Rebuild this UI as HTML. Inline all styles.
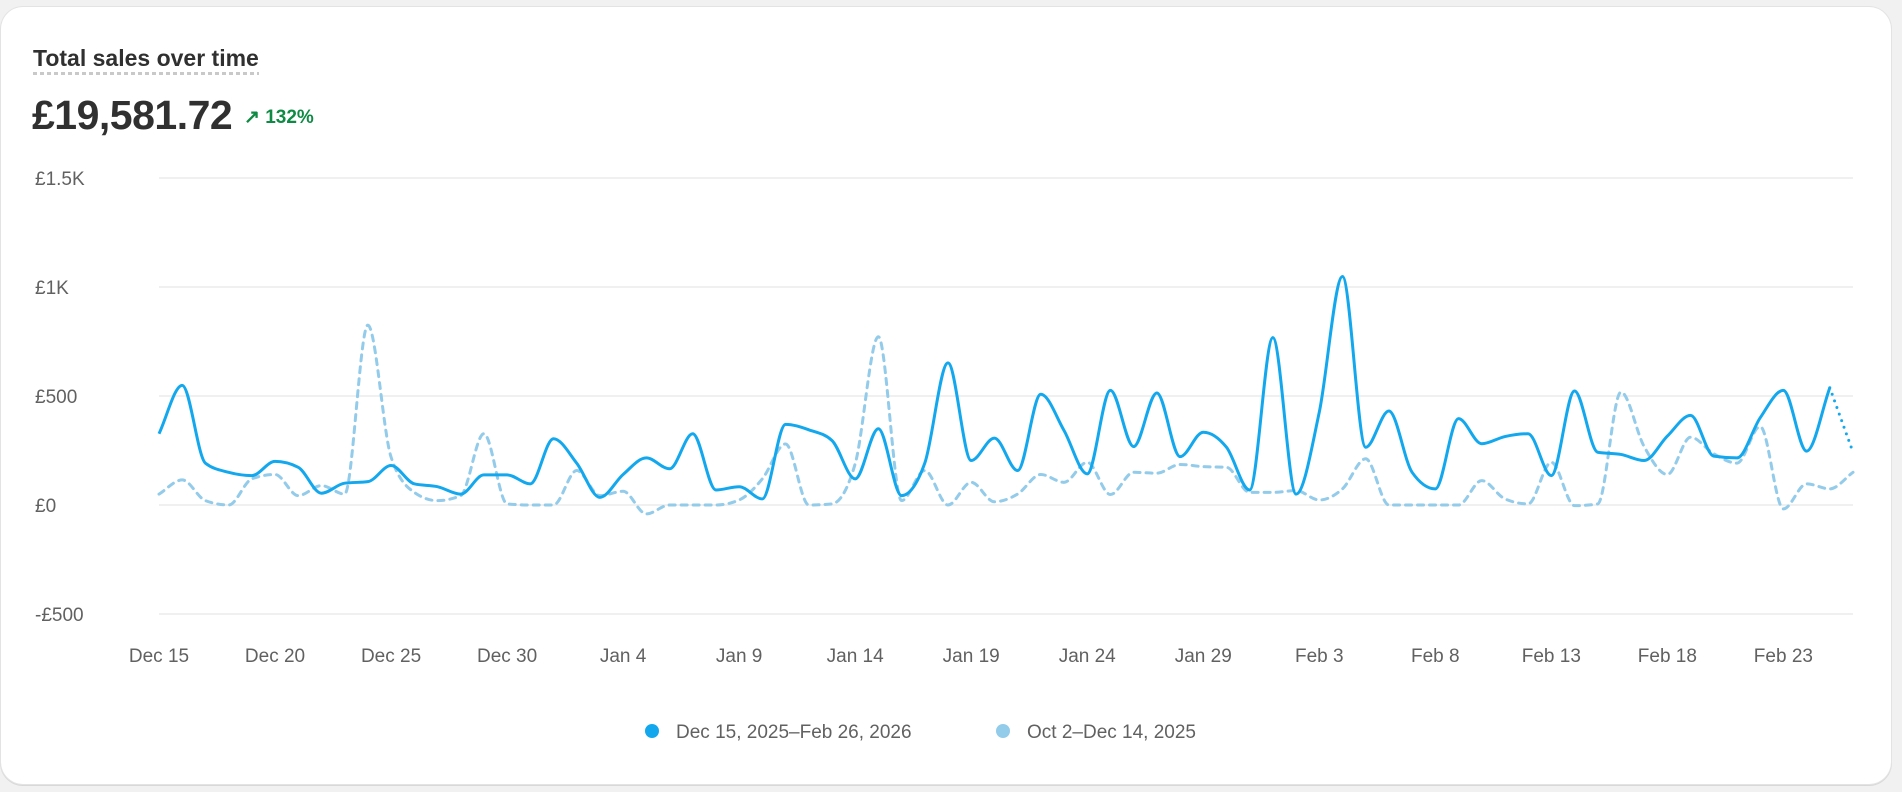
<!DOCTYPE html>
<html><head><meta charset="utf-8">
<style>
html,body{margin:0;padding:0;background:#f1f1f1;width:1902px;height:792px;overflow:hidden;font-family:"Liberation Sans",sans-serif;}
.card{position:absolute;left:1px;top:7px;width:1890px;height:777px;background:#fff;border-radius:22px;box-shadow:0 0 0 1px #e3e3e3, 0 1px 0 1px #d8d8d8;}
.title{position:absolute;left:33px;top:45px;font-size:23px;font-weight:bold;color:#303030;padding-bottom:3px;background-image:linear-gradient(to right,#c9c9c9 60%,transparent 40%);background-size:7px 3px;background-repeat:repeat-x;background-position:0 100%;}
.value{position:absolute;left:32px;top:92px;font-size:41px;font-weight:bold;color:#303030;letter-spacing:-0.5px;}
.delta{position:absolute;left:244px;top:106px;font-size:19px;font-weight:bold;color:#0f8a45;}
svg{position:absolute;left:0;top:0;}
</style></head><body>
<div class="card"></div>
<div class="title">Total sales over time</div>
<div class="value">£19,581.72</div>
<div class="delta">↗ 132%</div>
<svg id="chart" width="1902" height="792"></svg>
<script>
const categories = ["Dec 15","Dec 20","Dec 25","Dec 30","Jan 4","Jan 9","Jan 14","Jan 19","Jan 24","Jan 29","Feb 3","Feb 8","Feb 13","Feb 18","Feb 23"];
const yTicks = [1500,1000,500,0,-500];
const yTickLabels = ["£1.5K","£1K","£500","£0","-£500"];
const currentSeries = [327,549,192,150,135,200,173,54,100,107,181,97,84,50,138,138,97,304,192,35,140,216,166,327,69,84,28,370,345,296,120,350,43,192,652,204,307,158,508,342,143,526,268,514,222,334,265,69,768,50,426,1048,265,431,150,74,396,281,314,327,135,523,242,232,204,316,411,224,216,400,526,247,538,242];
const previousSeries = [50,115,20,0,120,140,43,89,50,825,220,58,20,43,327,5,0,0,158,43,63,-41,0,0,0,23,120,280,0,5,189,772,20,158,0,104,15,50,140,104,196,48,150,146,186,176,173,58,58,66,23,74,212,0,0,0,0,112,28,5,196,-3,5,518,268,140,311,235,192,360,-18,97,74,150];
const legendLabels = ["Dec 15, 2025–Feb 26, 2026","Oct 2–Dec 14, 2025"];

const NS="http://www.w3.org/2000/svg";
const svg=document.getElementById('chart');
const X0=159,X1=1853,Y0=505,PX_PER=109/500;
const n=currentSeries.length;
function xScale(i){return X0+(X1-X0)*i/(n-1);}
function yScale(v){return Y0-v*PX_PER;}
function mk(tag,attrs){const e=document.createElementNS(NS,tag);for(const k in attrs)e.setAttribute(k,attrs[k]);svg.appendChild(e);return e;}

yTicks.forEach((t,k)=>{
  const l=mk('line',{x1:X0,x2:X1,y1:yScale(t),y2:yScale(t),stroke:'#ebebeb','stroke-width':1.5});
  
  
  const tx=mk('text',{x:35,y:yScale(t)+7,'font-size':19,fill:'#616161','font-family':'Liberation Sans, sans-serif'});
  tx.textContent=yTickLabels[k];
  
  
});
categories.forEach((c,k)=>{
  const tx=mk('text',{x:xScale(k*5),y:662,'font-size':19,fill:'#616161','text-anchor':'middle','font-family':'Liberation Sans, sans-serif'});
  tx.textContent=c;
  
  
});

function monotonePath(pts){
  const m=pts.length,d=[],s=[];
  for(let i=0;i<m-1;i++){s.push((pts[i+1][1]-pts[i][1])/(pts[i+1][0]-pts[i][0]));}
  for(let i=0;i<m;i++){
    if(i==0)d.push(s[0]);else if(i==m-1)d.push(s[m-2]);
    else{ if(s[i-1]*s[i]<=0)d.push(0); else{const h0=pts[i][0]-pts[i-1][0],h1=pts[i+1][0]-pts[i][0];
      const p=(s[i-1]*h1+s[i]*h0)/(h0+h1);
      d.push((Math.sign(s[i-1])+Math.sign(s[i]))*Math.min(Math.abs(s[i-1]),Math.abs(s[i]),0.5*Math.abs(p)));}}
  }
  let str='M'+pts[0][0]+','+pts[0][1];
  for(let i=0;i<m-1;i++){const h=(pts[i+1][0]-pts[i][0])/3;
    str+=' C'+(pts[i][0]+h)+','+(pts[i][1]+h*d[i])+' '+(pts[i+1][0]-h)+','+(pts[i+1][1]-h*d[i+1])+' '+pts[i+1][0]+','+pts[i+1][1];}
  return str;
}
const prevPts=previousSeries.map((v,i)=>[xScale(i),yScale(v)]);
const pp=mk('path',{d:monotonePath(prevPts),fill:'none',stroke:'#93cbea','stroke-width':3,'stroke-dasharray':'6 6','stroke-linecap':'round'});


const curPts=currentSeries.map((v,i)=>[xScale(i),yScale(v)]);
const cp=mk('path',{d:monotonePath(curPts.slice(0,n-1)),fill:'none',stroke:'#13a8ee','stroke-width':3,'stroke-linejoin':'round'});


const cpd=mk('path',{d:monotonePath(curPts.slice(n-2)),fill:'none',stroke:'#13a8ee','stroke-width':3,'stroke-dasharray':'0 7','stroke-linecap':'round'});



const legX=[652,1003],legC=['#13a8ee','#93cbea'];
legendLabels.forEach((lab,k)=>{
  const c=mk('circle',{cx:legX[k],cy:731,r:7,fill:legC[k]});
  
  
  const t=mk('text',{x:legX[k]+24,y:738,'font-size':19,fill:'#616161','font-family':'Liberation Sans, sans-serif'});
  t.textContent=lab;
  
  
});
</script>
</body></html>
